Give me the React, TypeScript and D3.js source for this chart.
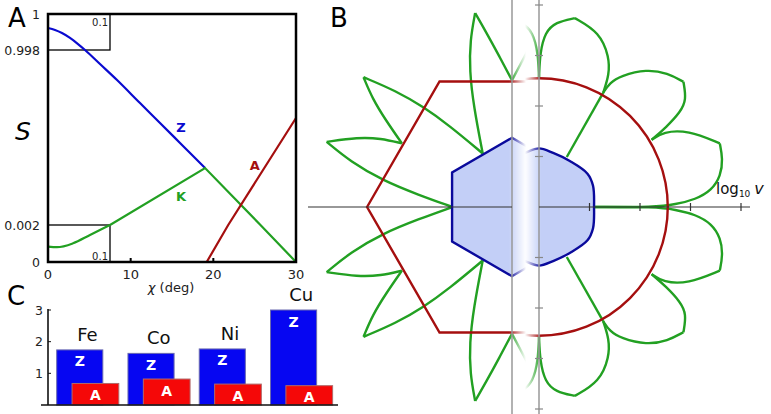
import * as d3 from "d3";

type Pt = [number, number];

// ---- panel A : S against chi
const chiTicks = [0, 10, 20, 30];
const sTicks = [1, 0.998, 0.002, 0];
const sTickLabels = ["1", "0.998", "0.002", "0"];
const zCurve: Pt[] = [
  [0, 0.99922], [0.85, 0.99911], [1.69, 0.99894], [2.66, 0.99867], [3.63, 0.99833], [4.48, 0.998],
  [6.29, 0.918], [8.35, 0.827], [11.13, 0.696], [13.55, 0.583], [15.97, 0.469], [19.0, 0.326],
];
const kCurve: Pt[] = [
  [0, 0.00083], [1.09, 0.0008], [3.02, 0.00101], [5.08, 0.00146], [7.5, 0.002],
  [19.0, 0.326], [25.7, 0.002], [30, 0],
];
const aCurve: Pt[] = [[19.2, 0], [21.8, 0.002], [30, 0.611]];

// ---- panel C : bars
const elements = ["Fe", "Co", "Ni", "Cu"];
const zValues = [1.74, 1.63, 1.77, 3.0];
const aValues = [0.68, 0.82, 0.66, 0.61];
const cTicks = [1, 2, 3];

// ---- panel B : polar plots (log10 v units)
const bTicks = [1, 2, 3, 4];
const redHexAngles = [270, 330, 30, 90, 150, 210];
const redHexR = 2.87;
const blueHexAngles = [0, 60, 120, 180, 240, 300];
const blueHexR = 1.37;
const redCircleR = 2.55;
const blueRight: Pt[] = [[0, 1.16], [0.28, 1.07], [0.61, 0.91], [0.96, 0.66], [1.07, 0.42], [1.09, 0]];
// top-right quadrant, mirrored for the rest
const greenRight: Pt[][] = [
  [[0, 2.57], [0.02, 3.05], [0.12, 3.46], [0.33, 3.66], [0.71, 3.74]],
  [[0.71, 3.74], [1.2, 3.46], [1.39, 2.97], [1.39, 2.62], [1.27, 2.26]],
  [[1.27, 2.26], [1.4, 2.46], [1.62, 2.6], [2.13, 2.73], [2.55, 2.65], [2.86, 2.48]],
  [[2.86, 2.48], [2.92, 2.12], [2.8, 1.88], [2.52, 1.58], [2.23, 1.33]],
  [[2.23, 1.33], [2.46, 1.49], [2.95, 1.52], [3.58, 1.26]],
  [[3.58, 1.26], [3.64, 0.95], [3.6, 0.62], [3.42, 0.33], [3.1, 0.15], [2.7, 0.05], [2.3, 0], [1.09, 0]],
  [[1.27, 2.26], [0.55, 0.99]],
];
// top-left quadrant of the left plot
const greenLeft: Pt[][] = [
  [[0, 2.51], [-0.26, 3.0], [-0.5, 3.44], [-0.73, 3.84]],
  [[-0.73, 3.84], [-0.83, 3.3], [-0.84, 2.7], [-0.76, 2.0], [-0.58, 1.06]],
  [[-0.58, 1.06], [-1.25, 1.62], [-1.75, 1.98], [-2.3, 2.3], [-2.94, 2.57]],
  [[-2.94, 2.57], [-2.76, 2.14], [-2.5, 1.72], [-2.18, 1.26]],
  [[-2.18, 1.26], [-2.6, 1.36], [-3.05, 1.38], [-3.67, 1.29]],
  [[-3.67, 1.29], [-3.2, 0.9], [-2.55, 0.52], [-1.85, 0.24], [-1.18, 0]],
];

const font = "DejaVu Sans, sans-serif";
const GREEN = "#22a022";
const DARKRED = "#a50f0f";
const NAVY = "#0a0a9c";

const mirrors = (arc: Pt[]) =>
  [[1, 1], [1, -1], [-1, 1], [-1, -1]].map(([sx, sy]) => arc.map(([x, y]) => [sx * x, sy * y] as Pt));

export default function App() {
  // panel A scales
  const xA = d3.scaleLinear().domain([0, 30]).range([48, 296]);
  const yA = d3.scaleLinear().domain([0, 0.002, 0.998, 1]).range([262, 225, 50, 14]);
  const lineA = d3.line<Pt>().x((d) => xA(d[0])).y((d) => yA(d[1]));
  const smoothA = d3.line<Pt>().x((d) => xA(d[0])).y((d) => yA(d[1])).curve(d3.curveMonotoneX);

  // panel C scales
  const xC = d3.scaleBand().domain(elements).range([56.7, 332]).paddingInner(0.1375).paddingOuter(0);
  const yC = d3.scaleLinear().domain([0, 3]).range([405, 310]);
  const bw = xC.bandwidth();

  // panel B scales
  const xL = d3.scaleLinear().domain([-4, 0]).range([310, 512]);
  const xR = d3.scaleLinear().domain([0, 4]).range([539, 741]);
  const yB = d3.scaleLinear().domain([-4, 4]).range([409, 5]);
  const rB = d3.scaleLinear().domain([0, 1]).range([0, 50.5]);
  const hex = (r: number) =>
    d3.lineRadial<number>().angle((a) => (a * Math.PI) / 180).radius(() => rB(r)).curve(d3.curveLinearClosed);
  const arcL = d3.line<Pt>().x((d) => xL(d[0])).y((d) => yB(d[1])).curve(d3.curveBasis);
  const arcR = d3.line<Pt>().x((d) => xR(d[0])).y((d) => yB(d[1])).curve(d3.curveBasis);

  const rightSide: Pt[] = [...blueRight, ...blueRight.slice(0, -1).reverse().map(([x, y]) => [x, -y] as Pt)];
  const blueFull: Pt[] = [...rightSide, ...rightSide.slice(1, -1).reverse().map(([x, y]) => [-x, y] as Pt)];
  const blueShape = d3.line<Pt>().x((d) => xR(d[0])).y((d) => yB(d[1])).curve(d3.curveCatmullRomClosed);

  return (
    <svg width={771} height={414} style={{ position: "absolute", left: 0, top: 0, background: "#fff" }} fontFamily={font}>
      <defs>
        <linearGradient id="gL" gradientUnits="userSpaceOnUse" x1={509} x2={526} y1={0} y2={0}>
          <stop offset="0" stopColor="#fff" stopOpacity={1} />
          <stop offset="1" stopColor="#fff" stopOpacity={0} />
        </linearGradient>
        <linearGradient id="gR" gradientUnits="userSpaceOnUse" x1={525} x2={541} y1={0} y2={0}>
          <stop offset="0" stopColor="#fff" stopOpacity={0} />
          <stop offset="1" stopColor="#fff" stopOpacity={1} />
        </linearGradient>
        <mask id="mL" maskUnits="userSpaceOnUse" x={0} y={0} width={771} height={414}>
          <rect x={0} y={0} width={771} height={414} fill="url(#gL)" />
        </mask>
        <mask id="mR" maskUnits="userSpaceOnUse" x={0} y={0} width={771} height={414}>
          <rect x={0} y={0} width={771} height={414} fill="url(#gR)" />
        </mask>
      </defs>

      {/* ===== panel A ===== */}
      <text x={8} y={27} fontSize={26}>A</text>
      <text x={15} y={140} fontSize={25} fontStyle="italic">S</text>
      <rect x={xA(0)} y={yA(1)} width={xA(7.5) - xA(0)} height={yA(0.998) - yA(1)} fill="none" stroke="#000" strokeWidth={1.3} />
      <rect x={xA(0)} y={yA(0.002)} width={xA(7.5) - xA(0)} height={yA(0) - yA(0.002)} fill="none" stroke="#000" strokeWidth={1.3} />
      <text x={xA(7.5) - 2} y={26} fontSize={10} textAnchor="end" fill="#222">0.1</text>
      <text x={xA(7.5) - 2} y={260} fontSize={10} textAnchor="end" fill="#222">0.1</text>
      <path d={smoothA(zCurve) || ""} fill="none" stroke="#0a0ad0" strokeWidth={2.2} />
      <path d={smoothA(kCurve.slice(0, 5)) || ""} fill="none" stroke={GREEN} strokeWidth={2.2} />
      <path d={lineA(kCurve.slice(4)) || ""} fill="none" stroke={GREEN} strokeWidth={2.2} />
      <path d={lineA(aCurve) || ""} fill="none" stroke={DARKRED} strokeWidth={2.2} />
      <text x={xA(16.1)} y={yA(0.531)} fontSize={13} fontWeight="bold" fill="#0a0ad0" textAnchor="middle">Z</text>
      <text x={xA(16.1)} y={yA(0.139)} fontSize={13} fontWeight="bold" fill={GREEN} textAnchor="middle">K</text>
      <text x={xA(25)} y={yA(0.315)} fontSize={13} fontWeight="bold" fill={DARKRED} textAnchor="middle">A</text>
      <rect x={xA(0)} y={yA(1)} width={xA(30) - xA(0)} height={yA(0) - yA(1)} fill="none" stroke="#000" strokeWidth={2.5} />
      {chiTicks.slice(1, 3).map((t) => (
        <line key={t} x1={xA(t)} x2={xA(t)} y1={yA(0)} y2={yA(0) - 4} stroke="#000" strokeWidth={2} />
      ))}
      {chiTicks.map((t) => (
        <text key={t} x={xA(t)} y={279} fontSize={13} textAnchor="middle" fill="#222">{t}</text>
      ))}
      <text x={171} y={292} fontSize={13} textAnchor="middle" fill="#222">
        <tspan fontStyle="italic">χ</tspan> (deg)
      </text>
      {sTicks.map((t, i) => (
        <text key={t} x={40} y={yA(t) + 4.5} fontSize={12.5} textAnchor="end" fill="#222">{sTickLabels[i]}</text>
      ))}

      {/* ===== panel C ===== */}
      <text x={7} y={305} fontSize={26}>C</text>
      {elements.map((e, i) => {
        const x0 = xC(e) as number;
        const zTop = yC(zValues[i]);
        const aTop = yC(aValues[i]);
        return (
          <g key={e}>
            <rect x={x0} y={zTop} width={bw * 0.75} height={yC(0) - zTop} fill="#0606f2" stroke="#6a6ab0" strokeWidth={1} />
            <text x={x0 + bw * 0.375} y={zTop + 16.5} fontSize={14} fontWeight="bold" fill="#fff" textAnchor="middle">Z</text>
            <rect x={x0 + bw * 0.25} y={aTop} width={bw * 0.76} height={yC(0) - aTop} fill="#f50808" stroke="#b06a6a" strokeWidth={1} />
            <text x={x0 + bw * 0.63} y={aTop + 16.5} fontSize={14} fontWeight="bold" fill="#fff" textAnchor="middle">A</text>
            <text x={x0 + bw * 0.5} y={zTop - 9} fontSize={18} textAnchor="middle" fill="#111">{e}</text>
          </g>
        );
      })}
      <line x1={41} x2={338} y1={yC(0)} y2={yC(0)} stroke="#111" strokeWidth={1.6} />
      <line x1={48} x2={48} y1={yC(3) - 1} y2={yC(0)} stroke="#111" strokeWidth={1.6} />
      {cTicks.map((t) => (
        <g key={t}>
          <line x1={48} x2={51} y1={yC(t)} y2={yC(t)} stroke="#111" strokeWidth={1} />
          <text x={43} y={yC(t) + 4.5} fontSize={12.5} textAnchor="end" fill="#222">{t}</text>
        </g>
      ))}

      {/* ===== panel B ===== */}
      <text x={330} y={27} fontSize={26}>B</text>
      {/* left plot, fading out toward the gap */}
      <g mask="url(#mL)">
        <path d={hex(blueHexR)(blueHexAngles) || ""} transform={`translate(${xL(0)},${yB(0)})`} fill="#c3cff7" />
        {greenLeft.flatMap((arc, i) =>
          mirrors(arc).map((m, j) => (
            <path key={`gl${i}-${j}`} d={arcL(m) || ""} fill="none" stroke={GREEN} strokeWidth={2.4} strokeLinejoin="round" />
          ))
        )}
        <path d={hex(redHexR)(redHexAngles) || ""} transform={`translate(${xL(0)},${yB(0)})`} fill="none" stroke={DARKRED} strokeWidth={2.4} />
        <path d={hex(blueHexR)(blueHexAngles) || ""} transform={`translate(${xL(0)},${yB(0)})`} fill="none" stroke={NAVY} strokeWidth={2.4} />
      </g>
      {/* right plot, fading in from the gap */}
      <g mask="url(#mR)">
        <path d={blueShape(blueFull) || ""} fill="#c3cff7" />
        {greenRight.flatMap((arc, i) =>
          mirrors(arc).map((m, j) => (
            <path key={`gr${i}-${j}`} d={arcR(m) || ""} fill="none" stroke={GREEN} strokeWidth={2.4} strokeLinejoin="round" />
          ))
        )}
        <circle cx={xR(0)} cy={yB(0)} r={rB(redCircleR)} fill="none" stroke={DARKRED} strokeWidth={2.4} />
        <path d={blueShape(blueFull) || ""} fill="none" stroke={NAVY} strokeWidth={2.4} />
      </g>
      {/* axes */}
      <line x1={xL(0)} x2={xL(0)} y1={0} y2={414} stroke="#999" strokeWidth={1.5} />
      <line x1={xR(0)} x2={xR(0)} y1={0} y2={414} stroke="#999" strokeWidth={1.5} />
      <line x1={308} x2={xL(0)} y1={yB(0)} y2={yB(0)} stroke="#333" strokeWidth={1.2} />
      <line x1={xR(0)} x2={750} y1={yB(0)} y2={yB(0)} stroke="#333" strokeWidth={1.2} />
      {bTicks.map((t) => (
        <g key={t}>
          <line x1={xR(t)} x2={xR(t)} y1={yB(0) - 4} y2={yB(0) + 4} stroke="#333" strokeWidth={1.2} />
          <line x1={xR(0) - 4} x2={xR(0) + 4} y1={yB(t)} y2={yB(t)} stroke="#888" strokeWidth={1.2} />
          <line x1={xR(0) - 4} x2={xR(0) + 4} y1={yB(-t)} y2={yB(-t)} stroke="#888" strokeWidth={1.2} />
        </g>
      ))}
      <text x={716} y={194} fontSize={15} fill="#111">
        log<tspan fontSize={9} dy={3}>10</tspan>
        <tspan dy={-3} dx={4} fontSize={16} fontStyle="italic">v</tspan>
      </text>
    </svg>
  );
}
